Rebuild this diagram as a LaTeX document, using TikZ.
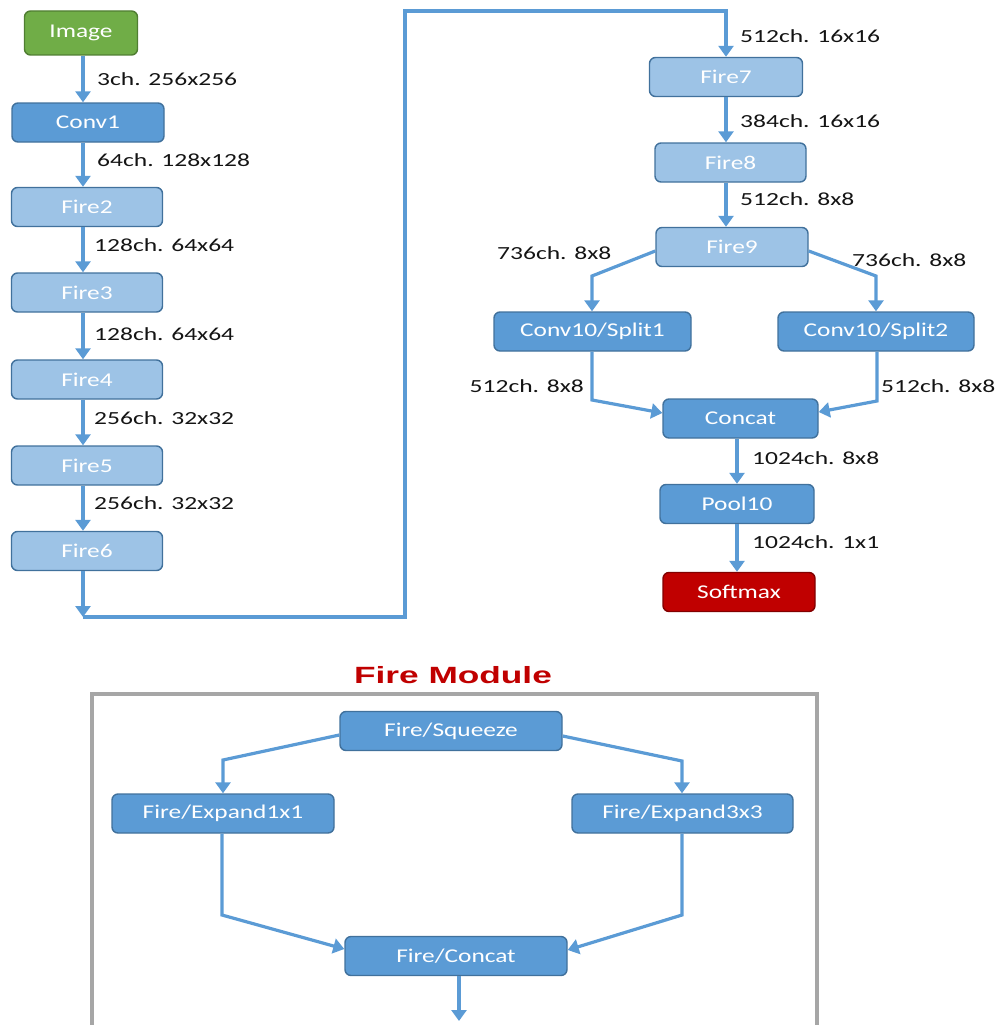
\documentclass[tikz,border=0pt]{standalone}
\usepackage{fontspec}
\usetikzlibrary{arrows.meta,calc}
\newfontfamily\lblfont[FakeStretch=1.38]{Carlito}
\newfontfamily\boxfont[FakeStretch=1.3]{Carlito}
\newfontfamily\ttlfont[FakeStretch=1.5]{Liberation Sans}
\definecolor{arrblue}{RGB}{91,155,213}
\definecolor{bordblue}{RGB}{65,113,156}
\definecolor{midblue}{RGB}{91,155,213}
\definecolor{lightblue}{RGB}{157,195,230}
\definecolor{imggreen}{RGB}{112,173,71}
\definecolor{imgborder}{RGB}{80,126,50}
\definecolor{smred}{RGB}{192,0,0}
\definecolor{smborder}{RGB}{130,0,0}
\definecolor{lblgray}{RGB}{20,20,20}
\definecolor{framegray}{RGB}{166,166,166}
\definecolor{ttlred}{RGB}{192,0,0}
\begin{document}
\begin{tikzpicture}[x=1pt,y=-1pt,
  box/.style={rounded corners=6pt, draw=bordblue, line width=1.4pt,
    minimum height=39pt, inner sep=0pt, text=white,
    font=\boxfont\fontsize{19.5}{19.5}\selectfont},
  darkbox/.style={box, fill=midblue},
  litebox/.style={box, fill=lightblue},
  lbl/.style={anchor=west, inner sep=0pt, text=lblgray,
    font=\lblfont\fontsize{18.5}{18.5}\selectfont},
  arr/.style={draw=arrblue, line width=3.2pt,
    -{Triangle[width=15pt,length=11pt]}},
  wire/.style={draw=arrblue, line width=3.2pt}]
\useasboundingbox (0,0) rectangle (1003,1025);

% ---- left column ----
\coordinate (colA) at (83,0);
\node[box, fill=imggreen, draw=imgborder, minimum width=113pt, minimum height=44pt] (img) at (81,33) {Image};
\node[darkbox, minimum width=152pt] (conv1) at (88,122.5) {Conv1};
\node[litebox, minimum width=151pt] (fire2) at (87,207) {Fire2};
\node[litebox, minimum width=151pt] (fire3) at (87,292.5) {Fire3};
\node[litebox, minimum width=151pt] (fire4) at (87,379.5) {Fire4};
\node[litebox, minimum width=151pt] (fire5) at (87,465.5) {Fire5};
\node[litebox, minimum width=151pt] (fire6) at (87,551) {Fire6};

\draw[arr] (img.south -| colA) -- (conv1.north -| colA);
\draw[arr] (conv1.south -| colA) -- (fire2.north -| colA);
\draw[arr] (fire2.south -| colA) -- (fire3.north -| colA);
\draw[arr] (fire3.south -| colA) -- (fire4.north -| colA);
\draw[arr] (fire4.south -| colA) -- (fire5.north -| colA);
\draw[arr] (fire5.south -| colA) -- (fire6.north -| colA);

\node[lbl] (l1) at (97,79) {3ch. 256x256};
\node[lbl] (l2) at (97,160) {64ch. 128x128};
\node[lbl] (l3) at (94,245) {128ch. 64x64};
\node[lbl] (l4) at (94,334) {128ch. 64x64};
\node[lbl] (l5) at (94,418) {256ch. 32x32};
\node[lbl] (l6) at (94,503) {256ch. 32x32};

% ---- loop over to the right column ----
\coordinate (turn) at (83,617);
\coordinate (loopA) at (405,617);
\coordinate (loopB) at (405,11);
\coordinate (colB) at (726,0);

% ---- right column ----
\node[litebox, minimum width=153pt] (fire7) at (726,77) {Fire7};
\node[litebox, minimum width=151pt] (fire8) at (730.5,162.5) {Fire8};
\node[litebox, minimum width=152pt] (fire9) at (732,247) {Fire9};
\node[darkbox, minimum width=197pt] (split1) at (592.5,331.5) {Conv10/Split1};
\node[darkbox, minimum width=196pt] (split2) at (876,331.5) {Conv10/Split2};
\node[darkbox, minimum width=155pt] (concat) at (740.5,418.5) {Concat};
\node[darkbox, minimum width=154pt] (pool) at (737,504) {Pool10};
\node[box, fill=smred, draw=smborder, minimum width=152pt] (soft) at (739,592) {Softmax};

\draw[arr] (fire6.south -| colA) -- (turn);
\draw[arr] (turn) -- (loopA) -- (loopB) -| (fire7.north -| colB);
\draw[arr] (fire7.south -| colB) -- (fire8.north -| colB);
\draw[arr] (fire8.south -| colB) -- (fire9.north -| colB);

\coordinate (bL) at (592,276);
\coordinate (bR) at (876,276);
\draw[arr] (fire9.west |- 0,251) -- (bL) -- (split1.north -| bL);
\draw[arr] (fire9.east |- 0,251) -- (bR) -- (split2.north -| bR);

\coordinate (jL) at (592,400);
\coordinate (jR) at (877,401);
\draw[arr] (split1.south -| jL) -- (jL) -- (concat.west |- 0,413);
\draw[arr] (split2.south -| jR) -- (jR) -- (concat.east |- 0,412);

\coordinate (colC) at (737,0);
\draw[arr] (concat.south -| colC) -- (pool.north -| colC);
\draw[arr] (pool.south -| colC) -- (soft.north -| colC);

\node[lbl] (r1) at (740,36) {512ch. 16x16};
\node[lbl] (r2) at (740,121) {384ch. 16x16};
\node[lbl] (r3) at (740,199) {512ch. 8x8};
\node[lbl] (r4) at (497,253) {736ch. 8x8};
\node[lbl] (r5) at (852,260) {736ch. 8x8};
\node[lbl, anchor=east] (r6) at (584,386) {512ch. 8x8};
\node[lbl] (r7) at (881,386) {512ch. 8x8};
\node[lbl] (r8) at (752,458) {1024ch. 8x8};
\node[lbl] (r9) at (752,542) {1024ch. 1x1};

% ---- fire module ----
\node[inner sep=0pt, text=ttlred, font=\ttlfont\bfseries\fontsize{23.5}{23.5}\selectfont] (title) at (453,675) {Fire Module};
\draw[framegray, line width=4pt] (92,1040) -- (92,694) -- (817,694) -- (817,1040);

\node[darkbox, minimum width=222pt] (sq) at (451,731) {Fire/Squeeze};
\node[darkbox, minimum width=222pt] (e1) at (223,813.5) {Fire/Expand1x1};
\node[darkbox, minimum width=221pt] (e3) at (682.5,813.5) {Fire/Expand3x3};
\node[darkbox, minimum width=222pt] (fc) at (456,956) {Fire/Concat};

\coordinate (sL) at (223,760);
\coordinate (sR) at (682,761);
\draw[arr] (sq.west |- 0,735) -- (sL) -- (e1.north -| sL);
\draw[arr] (sq.east |- 0,736) -- (sR) -- (e3.north -| sR);

\coordinate (cL) at (222,915);
\coordinate (cR) at (682,915);
\draw[arr] (e1.south -| cL) -- (cL) -- (fc.west |- 0,949);
\draw[arr] (e3.south -| cR) -- (cR) -- (fc.east |- 0,950);

\coordinate (out) at (459,1021);
\draw[arr] (fc.south -| out) -- (out);
\end{tikzpicture}
\end{document}
